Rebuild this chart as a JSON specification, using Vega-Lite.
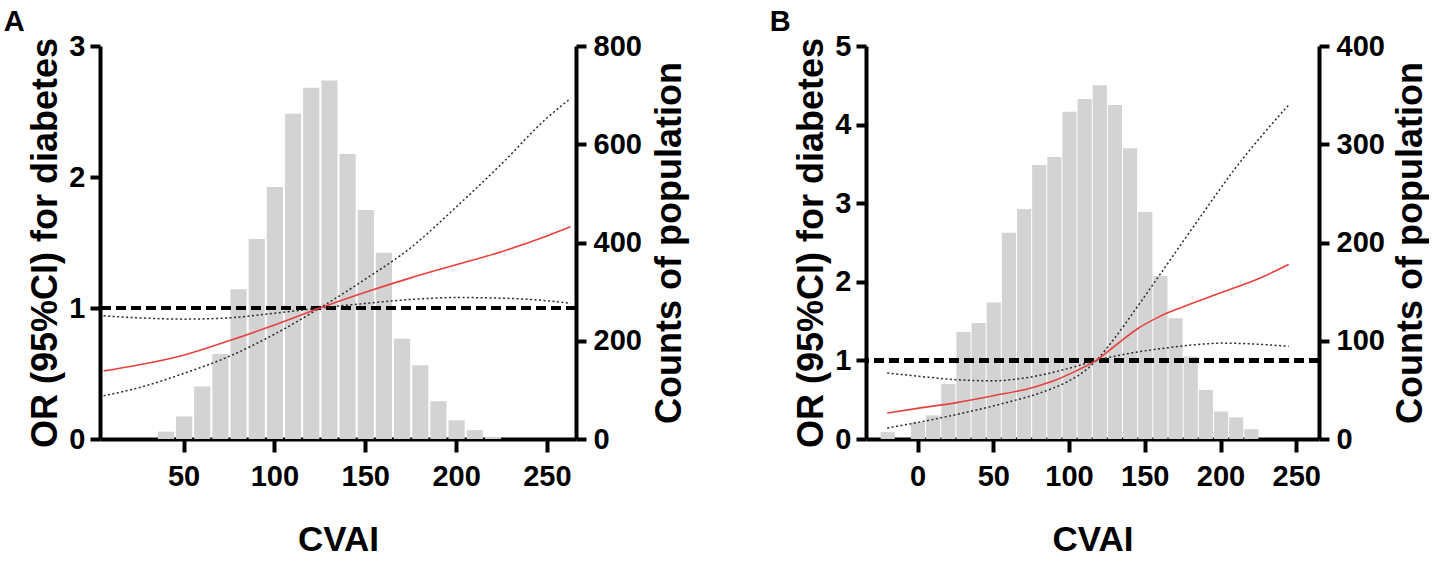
{
  "$schema": "https://vega.github.io/schema/vega-lite/v6.json",
  "background": "white",
  "padding": {"left": 3, "top": 8, "right": 0, "bottom": 0},
  "bounds": "flush",
  "spacing": 290,
  "datasets": {
    "histA": [
      {"bin_start": 35, "bin_end": 45, "count": 15},
      {"bin_start": 45, "bin_end": 55, "count": 46},
      {"bin_start": 55, "bin_end": 65, "count": 107},
      {"bin_start": 65, "bin_end": 75, "count": 173},
      {"bin_start": 75, "bin_end": 85, "count": 305},
      {"bin_start": 85, "bin_end": 95, "count": 407},
      {"bin_start": 95, "bin_end": 105, "count": 513},
      {"bin_start": 105, "bin_end": 115, "count": 662},
      {"bin_start": 115, "bin_end": 125, "count": 715},
      {"bin_start": 125, "bin_end": 135, "count": 730},
      {"bin_start": 135, "bin_end": 145, "count": 580},
      {"bin_start": 145, "bin_end": 155, "count": 466},
      {"bin_start": 155, "bin_end": 165, "count": 379},
      {"bin_start": 165, "bin_end": 175, "count": 204},
      {"bin_start": 175, "bin_end": 185, "count": 150},
      {"bin_start": 185, "bin_end": 195, "count": 77},
      {"bin_start": 195, "bin_end": 205, "count": 38},
      {"bin_start": 205, "bin_end": 215, "count": 18},
      {"bin_start": 215, "bin_end": 225, "count": 4}
    ],
    "curveA": [
      {"cvai": 6, "series": "OR", "or": 0.52},
      {"cvai": 25, "series": "OR", "or": 0.565},
      {"cvai": 50, "series": "OR", "or": 0.64},
      {"cvai": 75, "series": "OR", "or": 0.75},
      {"cvai": 100, "series": "OR", "or": 0.87},
      {"cvai": 125, "series": "OR", "or": 1.0},
      {"cvai": 150, "series": "OR", "or": 1.12},
      {"cvai": 175, "series": "OR", "or": 1.23},
      {"cvai": 200, "series": "OR", "or": 1.33},
      {"cvai": 225, "series": "OR", "or": 1.43},
      {"cvai": 250, "series": "OR", "or": 1.55},
      {"cvai": 263, "series": "OR", "or": 1.62},
      {"cvai": 6, "series": "CI1", "or": 0.94},
      {"cvai": 25, "series": "CI1", "or": 0.925},
      {"cvai": 50, "series": "CI1", "or": 0.915},
      {"cvai": 75, "series": "CI1", "or": 0.925},
      {"cvai": 100, "series": "CI1", "or": 0.96},
      {"cvai": 125, "series": "CI1", "or": 1.0},
      {"cvai": 150, "series": "CI1", "or": 1.035},
      {"cvai": 175, "series": "CI1", "or": 1.065},
      {"cvai": 200, "series": "CI1", "or": 1.08},
      {"cvai": 225, "series": "CI1", "or": 1.075},
      {"cvai": 250, "series": "CI1", "or": 1.055},
      {"cvai": 263, "series": "CI1", "or": 1.035},
      {"cvai": 6, "series": "CI2", "or": 0.33},
      {"cvai": 25, "series": "CI2", "or": 0.39},
      {"cvai": 50, "series": "CI2", "or": 0.5},
      {"cvai": 75, "series": "CI2", "or": 0.63},
      {"cvai": 100, "series": "CI2", "or": 0.8},
      {"cvai": 125, "series": "CI2", "or": 1.0},
      {"cvai": 150, "series": "CI2", "or": 1.22},
      {"cvai": 175, "series": "CI2", "or": 1.46},
      {"cvai": 200, "series": "CI2", "or": 1.77},
      {"cvai": 225, "series": "CI2", "or": 2.1},
      {"cvai": 250, "series": "CI2", "or": 2.45},
      {"cvai": 263, "series": "CI2", "or": 2.6}
    ],
    "histB": [
      {"bin_start": -25, "bin_end": -15, "count": 7},
      {"bin_start": -5, "bin_end": 5, "count": 17},
      {"bin_start": 5, "bin_end": 15, "count": 24},
      {"bin_start": 15, "bin_end": 25, "count": 56},
      {"bin_start": 25, "bin_end": 35, "count": 109},
      {"bin_start": 35, "bin_end": 45, "count": 118},
      {"bin_start": 45, "bin_end": 55, "count": 139},
      {"bin_start": 55, "bin_end": 65, "count": 210},
      {"bin_start": 65, "bin_end": 75, "count": 234},
      {"bin_start": 75, "bin_end": 85, "count": 279},
      {"bin_start": 85, "bin_end": 95, "count": 287},
      {"bin_start": 95, "bin_end": 105, "count": 333},
      {"bin_start": 105, "bin_end": 115, "count": 346},
      {"bin_start": 115, "bin_end": 125, "count": 360},
      {"bin_start": 125, "bin_end": 135, "count": 340},
      {"bin_start": 135, "bin_end": 145, "count": 296},
      {"bin_start": 145, "bin_end": 155, "count": 231},
      {"bin_start": 155, "bin_end": 165, "count": 166},
      {"bin_start": 165, "bin_end": 175, "count": 123},
      {"bin_start": 175, "bin_end": 185, "count": 84},
      {"bin_start": 185, "bin_end": 195, "count": 50},
      {"bin_start": 195, "bin_end": 205, "count": 28},
      {"bin_start": 205, "bin_end": 215, "count": 22},
      {"bin_start": 215, "bin_end": 225, "count": 10}
    ],
    "curveB": [
      {"cvai": -20, "series": "OR", "or": 0.33},
      {"cvai": 0, "series": "OR", "or": 0.39},
      {"cvai": 25, "series": "OR", "or": 0.46},
      {"cvai": 50, "series": "OR", "or": 0.55},
      {"cvai": 75, "series": "OR", "or": 0.65},
      {"cvai": 90, "series": "OR", "or": 0.74},
      {"cvai": 105, "series": "OR", "or": 0.87},
      {"cvai": 118, "series": "OR", "or": 1.0},
      {"cvai": 130, "series": "OR", "or": 1.18},
      {"cvai": 145, "series": "OR", "or": 1.4},
      {"cvai": 160, "series": "OR", "or": 1.56},
      {"cvai": 175, "series": "OR", "or": 1.68},
      {"cvai": 200, "series": "OR", "or": 1.86},
      {"cvai": 225, "series": "OR", "or": 2.04},
      {"cvai": 245, "series": "OR", "or": 2.22},
      {"cvai": -20, "series": "CI1", "or": 0.84},
      {"cvai": 0, "series": "CI1", "or": 0.8},
      {"cvai": 25, "series": "CI1", "or": 0.755},
      {"cvai": 50, "series": "CI1", "or": 0.74},
      {"cvai": 75, "series": "CI1", "or": 0.79},
      {"cvai": 100, "series": "CI1", "or": 0.9},
      {"cvai": 118, "series": "CI1", "or": 1.0},
      {"cvai": 140, "series": "CI1", "or": 1.09},
      {"cvai": 165, "series": "CI1", "or": 1.16},
      {"cvai": 190, "series": "CI1", "or": 1.21},
      {"cvai": 200, "series": "CI1", "or": 1.22},
      {"cvai": 220, "series": "CI1", "or": 1.21},
      {"cvai": 245, "series": "CI1", "or": 1.18},
      {"cvai": -20, "series": "CI2", "or": 0.14},
      {"cvai": 0, "series": "CI2", "or": 0.21},
      {"cvai": 30, "series": "CI2", "or": 0.33},
      {"cvai": 60, "series": "CI2", "or": 0.47},
      {"cvai": 80, "series": "CI2", "or": 0.58},
      {"cvai": 100, "series": "CI2", "or": 0.74},
      {"cvai": 110, "series": "CI2", "or": 0.86},
      {"cvai": 118, "series": "CI2", "or": 1.0},
      {"cvai": 130, "series": "CI2", "or": 1.28},
      {"cvai": 145, "series": "CI2", "or": 1.68},
      {"cvai": 165, "series": "CI2", "or": 2.23},
      {"cvai": 185, "series": "CI2", "or": 2.78},
      {"cvai": 210, "series": "CI2", "or": 3.45},
      {"cvai": 245, "series": "CI2", "or": 4.25}
    ]
  },
  "hconcat": [
    {
      "width": 476,
      "height": 393,
      "title": {"text": "A", "dx": -24, "offset": -5},
      "layer": [
        {
          "data": {"name": "histA"},
          "mark": {"type": "bar", "color": "#d3d3d3", "binSpacing": 2},
          "encoding": {
            "x": {
              "field": "bin_start", "type": "quantitative", "bin": "binned",
              "scale": {"domain": [4, 266], "nice": false, "zero": false},
              "axis": {"values": [50, 100, 150, 200, 250], "title": "CVAI"}
            },
            "x2": {"field": "bin_end"},
            "y": {
              "field": "count", "type": "quantitative",
              "scale": {"domain": [0, 800], "nice": false},
              "axis": {"orient": "right", "values": [0, 200, 400, 600, 800], "title": "Counts of population", "titleAngle": 270, "titleBaseline": "top", "titlePadding": 11, "labelPadding": 7}
            }
          }
        },
        {
          "data": {"name": "curveA"},
          "layer": [
            {
              "mark": {"type": "rule", "color": "black", "strokeWidth": 3.5, "strokeDash": [10, 5]},
              "encoding": {"y": {"datum": 1, "type": "quantitative", "scale": {"domain": [0, 3], "nice": false}, "axis": {"values": [0, 1, 2, 3], "format": "d", "title": "OR (95%CI) for diabetes", "titlePadding": 4}}}
            },
            {
              "transform": [{"filter": "datum.series !== 'OR'"}],
              "mark": {"type": "line", "color": "#2a2a2a", "strokeWidth": 1.5, "strokeDash": [2, 2.5], "interpolate": "monotone"},
              "encoding": {
                "x": {"field": "cvai", "type": "quantitative", "title": "CVAI"},
                "y": {"field": "or", "type": "quantitative"},
                "detail": {"field": "series"}
              }
            },
            {
              "transform": [{"filter": "datum.series === 'OR'"}],
              "mark": {"type": "line", "color": "#e8413c", "strokeWidth": 1.6, "interpolate": "monotone"},
              "encoding": {
                "x": {"field": "cvai", "type": "quantitative", "title": "CVAI"},
                "y": {"field": "or", "type": "quantitative"}
              }
            }
          ]
        }
      ],
      "resolve": {"scale": {"y": "independent"}, "axis": {"y": "independent"}}
    },
    {
      "width": 453,
      "height": 393,
      "title": {"text": "B", "dx": -24, "offset": -5},
      "layer": [
        {
          "data": {"name": "histB"},
          "mark": {"type": "bar", "color": "#d3d3d3", "binSpacing": 1},
          "encoding": {
            "x": {
              "field": "bin_start", "type": "quantitative", "bin": "binned",
              "scale": {"domain": [-34, 265], "nice": false, "zero": false},
              "axis": {"values": [0, 50, 100, 150, 200, 250], "title": "CVAI"}
            },
            "x2": {"field": "bin_end"},
            "y": {
              "field": "count", "type": "quantitative",
              "scale": {"domain": [0, 400], "nice": false},
              "axis": {"orient": "right", "values": [0, 100, 200, 300, 400], "title": "Counts of population", "titleAngle": 270, "titleBaseline": "top", "titlePadding": 9, "labelPadding": 7}
            }
          }
        },
        {
          "data": {"name": "curveB"},
          "layer": [
            {
              "mark": {"type": "rule", "color": "black", "strokeWidth": 3.5, "strokeDash": [10, 5]},
              "encoding": {"y": {"datum": 1, "type": "quantitative", "scale": {"domain": [0, 5], "nice": false}, "axis": {"values": [0, 1, 2, 3, 4, 5], "format": "d", "title": "OR (95%CI) for diabetes", "titlePadding": 4}}}
            },
            {
              "transform": [{"filter": "datum.series !== 'OR'"}],
              "mark": {"type": "line", "color": "#2a2a2a", "strokeWidth": 1.5, "strokeDash": [2, 2.5], "interpolate": "monotone"},
              "encoding": {
                "x": {"field": "cvai", "type": "quantitative", "title": "CVAI"},
                "y": {"field": "or", "type": "quantitative"},
                "detail": {"field": "series"}
              }
            },
            {
              "transform": [{"filter": "datum.series === 'OR'"}],
              "mark": {"type": "line", "color": "#e8413c", "strokeWidth": 1.6, "interpolate": "monotone"},
              "encoding": {
                "x": {"field": "cvai", "type": "quantitative", "title": "CVAI"},
                "y": {"field": "or", "type": "quantitative"}
              }
            }
          ]
        }
      ],
      "resolve": {"scale": {"y": "independent"}, "axis": {"y": "independent"}}
    }
  ],
  "config": {
    "view": {"stroke": null},
    "font": "Liberation Sans",
    "title": {"font": "Liberation Sans", "fontSize": 29, "fontWeight": "bold", "anchor": "start", "color": "black"},
    "axis": {
      "grid": false,
      "domainColor": "black",
      "domainWidth": 4,
      "tickColor": "black",
      "tickWidth": 4,
      "tickSize": 10,
      "labelFont": "Liberation Sans",
      "labelFontSize": 29,
      "labelFontWeight": "bold",
      "labelColor": "black",
      "labelPadding": 5,
      "titleFont": "Liberation Sans",
      "titleFontSize": 35,
      "titleFontWeight": "bold",
      "titleColor": "black"
    },
    "axisY": {"titleFontSize": 36},
    "axisX": {"tickSize": 13, "labelPadding": 10, "titlePadding": 31}
  }
}
